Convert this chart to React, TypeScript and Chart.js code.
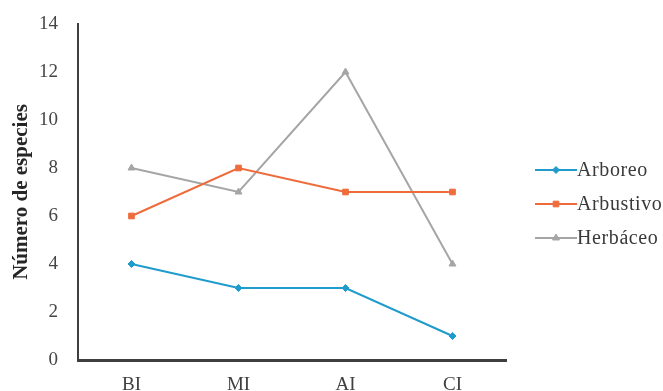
import React, { useEffect, useRef } from "react";
import { Chart, registerables } from "chart.js";
import { drawPoint } from "chart.js/helpers";

Chart.register(...registerables);

const categories = ["BI", "MI", "AI", "CI"];
const arboreo = [4, 3, 3, 1];
const arbustivo = [6, 8, 7, 7];
const herbaceo = [8, 7, 12, 4];
const seriesNames = ["Arboreo", "Arbustivo", "Herbáceo"];

const COLORS = ["#1f9bcc", "#ee6c3c", "#a5a5a5"];
const POINT_STYLES = ["rectRot", "rect", "triangle"] as const;
const SERIF = "'Liberation Serif', 'Times New Roman', serif";

// Legend drawn at the right: short line with a marker, then the label.
const sideLegend = {
  id: "sideLegend",
  afterDraw(chart: any) {
    const { ctx } = chart;
    const x0 = 535;
    const x1 = 577;
    const rows = [170, 204, 238];
    ctx.save();
    chart.data.datasets.forEach((ds: any, i: number) => {
      const y = rows[i];
      ctx.strokeStyle = ds.borderColor;
      ctx.lineWidth = 2;
      ctx.beginPath();
      ctx.moveTo(x0, y);
      ctx.lineTo(x1, y);
      ctx.stroke();
      ctx.fillStyle = ds.borderColor;
      ctx.strokeStyle = ds.borderColor;
      ctx.lineWidth = 1;
      drawPoint(ctx, { pointStyle: ds.pointStyle, radius: ds.pointRadius, borderWidth: 1, rotation: 0 } as any, (x0 + x1) / 2, y);
      ctx.fillStyle = "#3a3a3a";
      ctx.font = `20px ${SERIF}`;
      (ctx as any).letterSpacing = "0.6px";
      ctx.textAlign = "left";
      ctx.textBaseline = "middle";
      ctx.fillText(ds.label, x1, y + 1);
      (ctx as any).letterSpacing = "0px";
    });
    ctx.restore();
  },
};

export default function App() {
  const canvasRef = useRef<HTMLCanvasElement | null>(null);

  useEffect(() => {
    document.body.style.margin = "0";
    const canvas = canvasRef.current;
    if (!canvas) return;
    const values = [arboreo, arbustivo, herbaceo];
    const chart = new Chart(canvas, {
      type: "line",
      data: {
        labels: categories,
        datasets: values.map((v, i) => ({
          label: seriesNames[i],
          data: v,
          borderColor: COLORS[i],
          backgroundColor: COLORS[i],
          borderWidth: 2,
          pointStyle: POINT_STYLES[i],
          pointRadius: i === 0 ? 3.5 : 4,
          pointBorderWidth: 1,
          tension: 0,
          fill: false,
        })),
      },
      options: {
        responsive: false,
        animation: false,
        layout: { padding: { top: 24, right: 157, bottom: 0, left: 0 } },
        plugins: {
          legend: { display: false },
          tooltip: { enabled: false },
        },
        scales: {
          x: {
            offset: true,
            grid: { display: false, drawTicks: false },
            border: { display: true, color: "#3f3f3f", width: 3 },
            ticks: {
              padding: 14,
              color: "#3f3f3f",
              font: { family: SERIF, size: 19 },
            },
            afterFit: (scale: any) => {
              scale.height = 31;
            },
          },
          y: {
            min: 0,
            max: 14,
            grid: { display: false, drawTicks: false },
            border: { display: true, color: "#3f3f3f", width: 2 },
            ticks: {
              stepSize: 2,
              padding: 20,
              color: "#454545",
              font: { family: SERIF, size: 19 },
            },
            title: {
              display: true,
              text: "Número de especies",
              color: "#262626",
              padding: { top: 9, bottom: 0 },
              font: { family: SERIF, size: 21, weight: "bold" },
            },
            afterFit: (scale: any) => {
              scale.width = 78;
              scale.paddingTop = 0;
              scale.paddingBottom = 0;
            },
          },
        },
      },
      plugins: [sideLegend],
    });
    return () => chart.destroy();
  }, []);

  return (
    <div style={{ position: "absolute", left: 0, top: 0, width: 663, height: 391, background: "#ffffff" }}>
      <canvas ref={canvasRef} width={663} height={391} style={{ display: "block" }} />
    </div>
  );
}
